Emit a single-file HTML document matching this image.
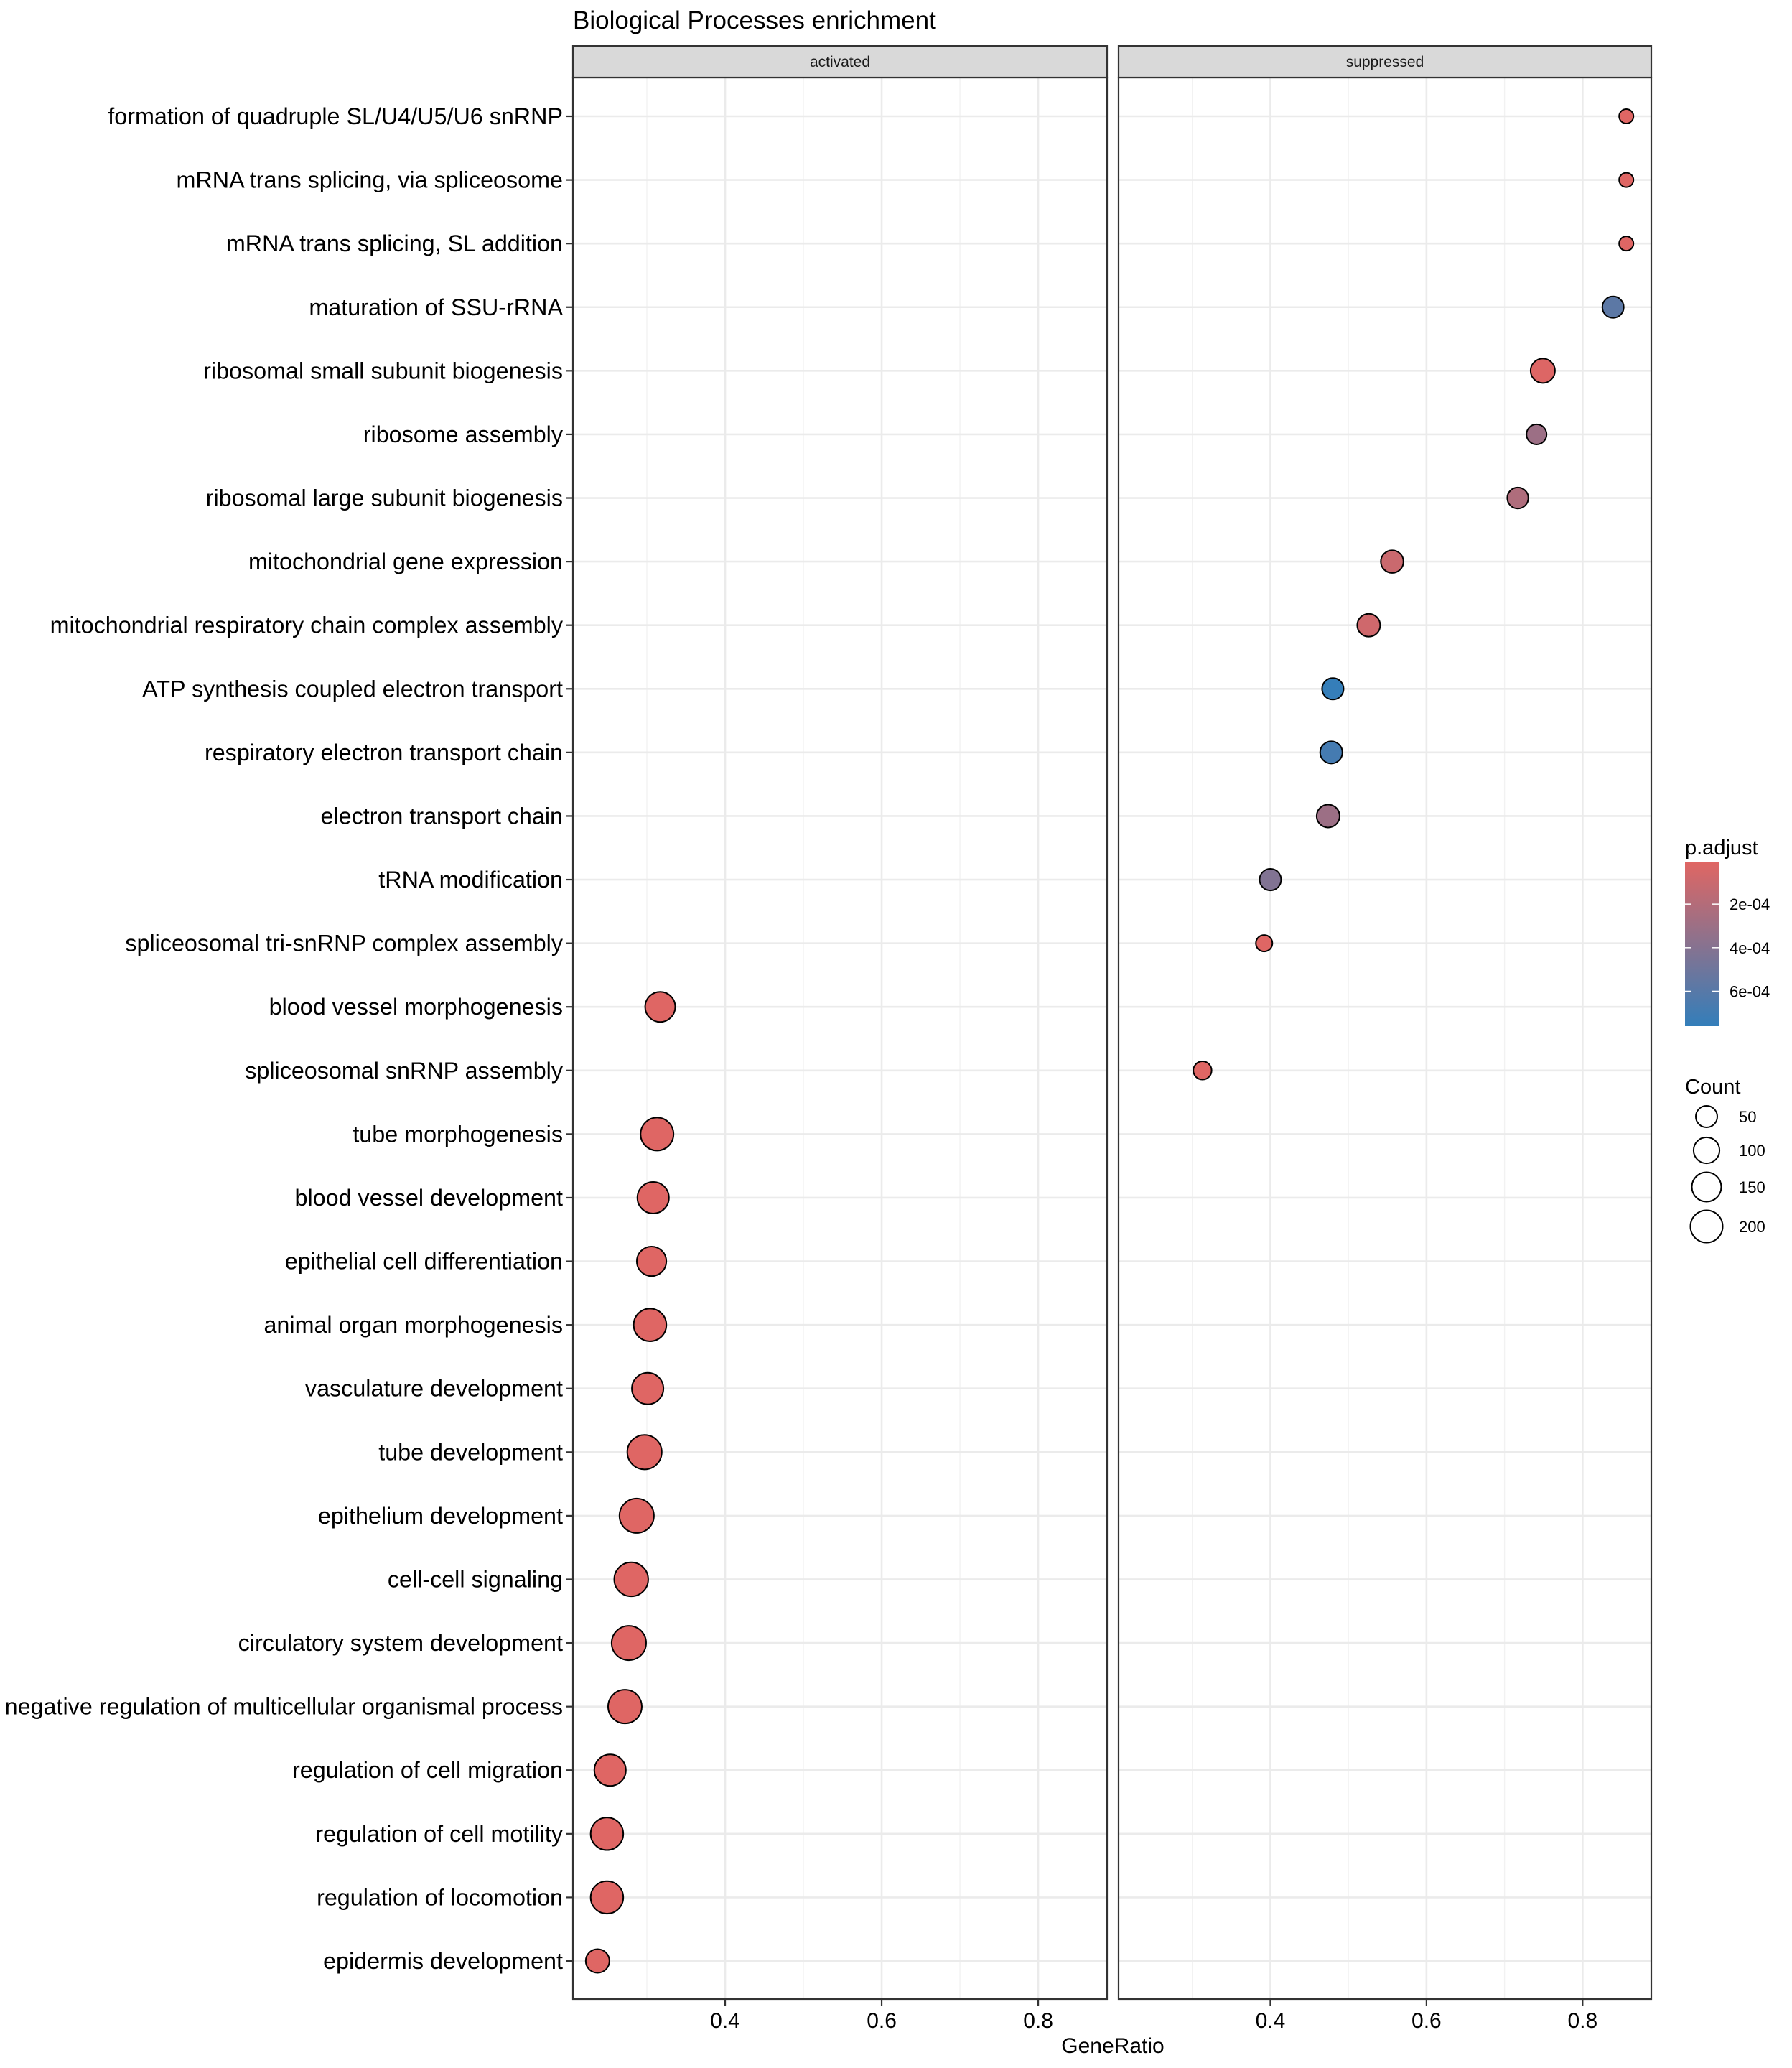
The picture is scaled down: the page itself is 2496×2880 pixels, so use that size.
<!DOCTYPE html>
<html><head><meta charset="utf-8"><style>
html,body{margin:0;padding:0;background:#fff;}
svg{display:block;font-family:"Liberation Sans",Arial,sans-serif;}
</style></head><body>
<svg id="chart" width="2496" height="2880" viewBox="0 0 2496 2880">
<text x="798" y="40" font-size="35" fill="#000">Biological Processes enrichment</text>
<g id="panels"></g>
<g id="legend"></g>
<text x="1550" y="2859" font-size="30" text-anchor="middle" fill="#000">GeneRatio</text>
</svg>
<script>
const terms = ["formation of quadruple SL/U4/U5/U6 snRNP","mRNA trans splicing, via spliceosome","mRNA trans splicing, SL addition","maturation of SSU-rRNA","ribosomal small subunit biogenesis","ribosome assembly","ribosomal large subunit biogenesis","mitochondrial gene expression","mitochondrial respiratory chain complex assembly","ATP synthesis coupled electron transport","respiratory electron transport chain","electron transport chain","tRNA modification","spliceosomal tri-snRNP complex assembly","blood vessel morphogenesis","spliceosomal snRNP assembly","tube morphogenesis","blood vessel development","epithelial cell differentiation","animal organ morphogenesis","vasculature development","tube development","epithelium development","cell-cell signaling","circulatory system development","negative regulation of multicellular organismal process","regulation of cell migration","regulation of cell motility","regulation of locomotion","epidermis development"];
const panelOf = ["s","s","s","s","s","s","s","s","s","s","s","s","s","s","a","s","a","a","a","a","a","a","a","a","a","a","a","a","a","a"];
const geneRatio = [0.856,0.856,0.856,0.839,0.749,0.741,0.717,0.556,0.526,0.480,0.478,0.474,0.400,0.392,0.317,0.313,0.313,0.308,0.306,0.304,0.301,0.297,0.287,0.280,0.277,0.272,0.253,0.249,0.249,0.237];
const counts = [2,2,2,37,64,27,34,47,50,38,44,50,38,8,139,16,186,162,130,182,162,214,214,205,214,200,162,180,180,57];
const padj = [1e-5,1e-5,1e-5,5.8e-4,2e-5,3e-4,2.2e-4,1e-4,8e-5,7.5e-4,6.8e-4,3e-4,4.2e-4,1e-5,1e-5,1e-5,1e-5,1e-5,1e-5,1e-5,1e-5,1e-5,1e-5,1e-5,1e-5,1e-5,1e-5,1e-5,1e-5,1e-5];
const facets = ["activated","suppressed"];
const xTicks = [0.4,0.6,0.8];
const xMinor = [0.3,0.5,0.7];
const pTicks = [2e-4,4e-4,6e-4];
const pTickLabels = ["2e-04","4e-04","6e-04"];
const sizeBreaks = [50,100,150,200];

const NS="http://www.w3.org/2000/svg";
function mk(tag,attrs,parent){const e=document.createElementNS(NS,tag);for(const k in attrs)e.setAttribute(k,attrs[k]);parent.appendChild(e);return e;}
const X0=0.2055,X1=0.888;
const panelBox={a:[798,1542],s:[1558,2300]};
const TOP=108,BOT=2784;
function xs(p,v){const b=panelBox[p];return b[0]+(v-X0)/(X1-X0)*(b[1]-b[0]);}
function ys(i){return 162+i*(2731-162)/(terms.length-1);}
function rs(c){return 8.5+1.06*Math.sqrt(c);}
const PMIN=5e-6,PMAX=7.6e-4;
function col(p){let t=(p-PMIN)/(PMAX-PMIN);t=Math.max(0,Math.min(1,t));
 const a=[224,102,99],b=[51,126,186];
 return "rgb("+a.map((v,k)=>Math.round(v+(b[k]-v)*t)).join(",")+")";}
const g=document.getElementById("panels");
["a","s"].forEach((p,pi)=>{
 const [L,R]=panelBox[p];
 const pg=mk("g",{},g);
 
 
 mk("rect",{x:L,y:TOP,width:R-L,height:BOT-TOP,fill:"#fff"},pg);
 xMinor.forEach(v=>{const l=mk("line",{x1:xs(p,v),x2:xs(p,v),y1:TOP,y2:BOT,stroke:"#F2F2F2","stroke-width":1.4},pg);
  });
 xTicks.forEach(v=>{const l=mk("line",{x1:xs(p,v),x2:xs(p,v),y1:TOP,y2:BOT,stroke:"#EBEBEB","stroke-width":2.6},pg);
  });
 terms.forEach((t,i)=>{const l=mk("line",{x1:L,x2:R,y1:ys(i),y2:ys(i),stroke:"#EBEBEB","stroke-width":2.6},pg);
  });
 terms.forEach((t,i)=>{ if(panelOf[i]!==p)return;
  const c=mk("circle",{cx:xs(p,geneRatio[i]),cy:ys(i),r:rs(counts[i]),fill:col(padj[i]),stroke:"#000","stroke-width":2},pg);
  });
 const bd=mk("rect",{x:L,y:TOP,width:R-L,height:BOT-TOP,fill:"none",stroke:"#333","stroke-width":2.2},pg);
 
 const st=mk("rect",{x:L,y:64,width:R-L,height:44,fill:"#D9D9D9",stroke:"#333","stroke-width":2.2},pg);
 
 const stt=mk("text",{x:(L+R)/2,y:93,"font-size":21,"text-anchor":"middle",fill:"#1A1A1A"},pg);stt.textContent=facets[pi];
 
 xTicks.forEach(v=>{const x=xs(p,v);
  const tk=mk("line",{x1:x,x2:x,y1:BOT,y2:BOT+9,stroke:"#333","stroke-width":2.2},pg);
  
  const tl=mk("text",{x:x,y:BOT+40,"font-size":30,"text-anchor":"middle",fill:"#000"},pg);tl.textContent=v.toFixed(1);
  });
});
terms.forEach((t,i)=>{
 const tk=mk("line",{x1:788,x2:798,y1:ys(i),y2:ys(i),stroke:"#333","stroke-width":2.2},g);
 
 const tl=mk("text",{x:784,y:ys(i)+11,"font-size":32.3,"text-anchor":"end",fill:"#000"},g);tl.textContent=t;
 
});
const lg=document.getElementById("legend");
const pt=mk("text",{x:2347,y:1190,"font-size":29,fill:"#000"},lg);pt.textContent="p.adjust";

const defs=mk("defs",{},lg);
const grd=mk("linearGradient",{id:"pg",x1:0,y1:0,x2:0,y2:1},defs);
mk("stop",{offset:"0","stop-color":col(PMIN)},grd);
mk("stop",{offset:"1","stop-color":col(PMAX)},grd);
const CB0=1200,CB1=1429;
function pys(p){return CB0+(p-PMIN)/(PMAX-PMIN)*(CB1-CB0);}
const cb=mk("rect",{x:2347,y:CB0,width:47,height:CB1-CB0,fill:"url(#pg)"},lg);

pTicks.forEach((p,k)=>{const y=pys(p);
 mk("line",{x1:2347,x2:2356,y1:y,y2:y,stroke:"#fff","stroke-width":1.5},lg);
 mk("line",{x1:2385,x2:2394,y1:y,y2:y,stroke:"#fff","stroke-width":1.5},lg);
 const tl=mk("text",{x:2409,y:y+8,"font-size":22,fill:"#000"},lg);tl.textContent=pTickLabels[k];
 });
const ct=mk("text",{x:2347,y:1523,"font-size":29,fill:"#000"},lg);ct.textContent="Count";

const sy=[1555,1602,1653,1708];
sizeBreaks.forEach((c,k)=>{
 const ci=mk("circle",{cx:2377,cy:sy[k],r:rs(c)-1,fill:"none",stroke:"#000","stroke-width":2},lg);
 
 const tl=mk("text",{x:2422,y:sy[k]+8,"font-size":22,fill:"#000"},lg);tl.textContent=String(c);
 });
</script>
</body></html>
